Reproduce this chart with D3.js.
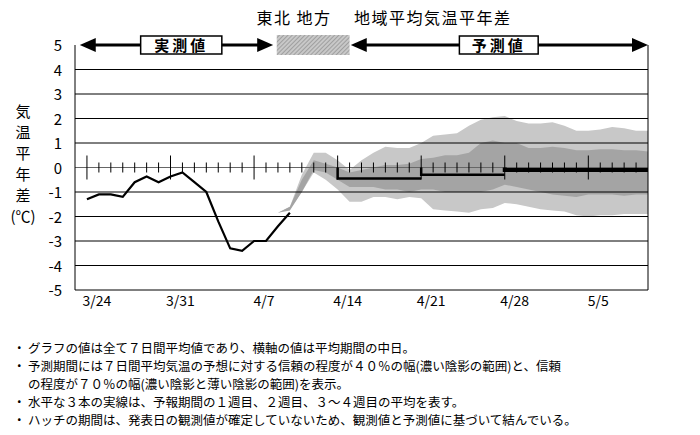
<!DOCTYPE html>
<html><head><meta charset="utf-8">
<script src="https://cdn.jsdelivr.net/npm/d3@7"></script>
<style>body{margin:0;background:#fff}text{font-family:"Noto Sans CJK JP",sans-serif}</style>
</head><body><svg id="c" width="700" height="435"></svg>
<script>
// day index 0 = 3/24
const xLabels = ['3/24', '3/31', '4/7', '4/14', '4/21', '4/28', '5/5'];
const yTicks = [5, 4, 3, 2, 1, 0, -1, -2, -3, -4, -5];
const observed = [-1.3, -1.1, -1.1, -1.2, -0.6, -0.37, -0.6, -0.37, -0.2, -0.6, -1.0, -2.2, -3.3, -3.4, -3.0, -3.0, -2.4, -1.85];
const bandDays = d3.range(16, 48);
const outerHi = [-1.85, -1.6, -0.3, 0.6, 0.6, 0.3, -0.1, 0.3, 0.6, 0.85, 0.8, 0.8, 1.0, 1.3, 1.35, 1.4, 1.7, 1.95, 2.05, 2.1, 1.9, 1.8, 1.8, 1.85, 1.7, 1.5, 1.5, 1.55, 1.65, 1.6, 1.5, 1.5];
const outerLo = [-1.85, -1.7, -1.0, -0.2, -0.5, -0.9, -1.4, -1.4, -1.2, -1.2, -1.3, -1.2, -1.25, -1.7, -1.75, -1.8, -1.85, -1.7, -1.65, -1.45, -1.5, -1.6, -1.7, -1.75, -1.8, -1.95, -2.0, -1.95, -1.95, -1.9, -1.9, -1.9];
const innerHi = [-1.85, -1.6, -0.5, 0.3, 0.15, 0.0, -0.2, -0.1, 0.0, 0.1, 0.1, 0.15, 0.35, 0.4, 0.5, 0.5, 0.6, 1.0, 1.1, 1.0, 1.0, 0.8, 0.8, 0.85, 0.8, 0.7, 0.7, 0.75, 0.75, 0.7, 0.7, 0.65];
const innerLo = [-1.85, -1.75, -1.0, -0.1, -0.2, -0.5, -0.8, -0.8, -0.8, -0.9, -0.9, -1.0, -0.9, -0.9, -1.0, -1.0, -1.0, -1.0, -0.9, -0.7, -0.8, -0.9, -1.0, -1.1, -1.15, -1.2, -1.1, -1.1, -1.1, -1.15, -1.1, -1.1];
const weeks = [
  { start: 21, end: 28, value: -0.45, width: 2.5 },
  { start: 28, end: 35, value: -0.3, width: 2.5 },
  { start: 35, end: 47, value: -0.1, width: 4 },
];
const notes = [
  'グラフの値は全て７日間平均値であり、横軸の値は平均期間の中日。',
  '予測期間には７日間平均気温の予想に対する信頼の程度が４０％の幅(濃い陰影の範囲)と、信頼',
  'の程度が７０％の幅(濃い陰影と薄い陰影の範囲)を表示。',
  '水平な３本の実線は、予報期間の１週目、２週目、３～４週目の平均を表す。',
  'ハッチの期間は、発表日の観測値が確定していないため、観測値と予測値に基づいて結んでいる。',
];
const noteBullets = [true, true, false, true, true];

const svg = d3.select('#c');
const x = d3.scaleLinear().domain([-1, 47]).range([75, 648]);
const y = d3.scaleLinear().domain([-5, 5]).range([290, 45]);

const defs = svg.append('defs');
const pat = defs.append('pattern').attr('id', 'hatch').attr('width', 3).attr('height', 3)
  .attr('patternUnits', 'userSpaceOnUse').attr('patternTransform', 'rotate(45)');
pat.append('rect').attr('width', 3).attr('height', 3).attr('fill', '#c8c8c8');
pat.append('line').attr('x1', 0).attr('y1', 0).attr('x2', 0).attr('y2', 3).attr('stroke', '#777').attr('stroke-width', 1);

// bands
const area = (hi, lo) => d3.area().x((d, i) => x(bandDays[i])).y0((d, i) => y(lo[i])).y1((d, i) => y(hi[i]));
svg.append('path').attr('d', area(outerHi, outerLo)(bandDays)).attr('fill', '#c8c8c8');
svg.append('path').attr('d', area(innerHi, innerLo)(bandDays)).attr('fill', '#a4a4a4');

// grid
svg.append('g').selectAll('line').data(yTicks.filter(v => v !== 0 && v !== 5 && v !== -5)).join('line')
  .attr('x1', x(-1)).attr('x2', x(47)).attr('y1', d => y(d)).attr('y2', d => y(d))
  .attr('stroke', '#000').attr('stroke-width', 1);
svg.append('line').attr('x1', x(-1)).attr('x2', x(47)).attr('y1', y(0)).attr('y2', y(0)).attr('stroke', '#666');
svg.append('g').selectAll('line').data(d3.range(0, 47)).join('line')
  .attr('x1', d => x(d)).attr('x2', d => x(d))
  .attr('y1', d => y(0) - (d % 7 === 0 ? 12 : 5)).attr('y2', d => y(0) + (d % 7 === 0 ? 12 : 5))
  .attr('stroke', '#000');

// frame
svg.append('path').attr('d', `M${x(-1)},${y(5)}V${y(-5)}H${x(47)}V${y(5)}`).attr('fill', 'none').attr('stroke', '#000');

// axes labels
svg.append('g').selectAll('text').data(yTicks).join('text')
  .attr('x', 62).attr('y', d => y(d) + 6).attr('text-anchor', 'end').attr('font-size', 15).text(d => d);
svg.append('g').selectAll('text').data(xLabels).join('text')
  .attr('x', (d, i) => x(i * 7) + 10).attr('y', 306).attr('text-anchor', 'middle').attr('font-size', 14).text(d => d);

// observed
svg.append('path').datum(observed).attr('fill', 'none').attr('stroke', '#000').attr('stroke-width', 2.2)
  .attr('d', d3.line().x((d, i) => x(i)).y(d => y(d)));

// weekly means
weeks.forEach(w => {
  svg.append('path').attr('fill', 'none').attr('stroke', '#000').attr('stroke-width', w.width)
    .attr('d', `M${x(w.start)},${y(0)}V${y(w.value)}H${x(w.end)}`);
});

// top arrows
const ay = y(5);
function arrow(d0, d1) {
  svg.append('line').attr('x1', x(d0) + 10).attr('x2', x(d1) - 10).attr('y1', ay).attr('y2', ay).attr('stroke', '#000').attr('stroke-width', 3);
  svg.append('path').attr('d', `M${x(d0)},${ay}l16,-7v14z`);
  svg.append('path').attr('d', `M${x(d1)},${ay}l-16,-7v14z`);
}
arrow(-0.6, 15.6);
arrow(22.1, 47);
function box(d0, d1, label) {
  svg.append('rect').attr('x', x(d0)).attr('y', ay - 9).attr('width', x(d1) - x(d0)).attr('height', 18)
    .attr('fill', '#fff').attr('stroke', '#000').attr('stroke-width', 1.5);
  svg.append('text').attr('x', (x(d0) + x(d1)) / 2).attr('y', ay + 6).attr('text-anchor', 'middle')
    .attr('font-size', 15).attr('font-weight', 'bold').attr('letter-spacing', 3).text(label);
}
box(4.5, 11.3, '実測値');
box(31.2, 37.8, '予測値');
svg.append('rect').attr('x', x(15.9)).attr('y', ay - 10).attr('width', x(22) - x(15.9)).attr('height', 20).attr('fill', 'url(#hatch)');

// title and y label
svg.append('text').attr('x', 384).attr('y', 24).attr('text-anchor', 'middle').attr('font-size', 16)
  .attr('letter-spacing', 1.5).attr('xml:space', 'preserve').text('東北 地方　 地域平均気温平年差');
svg.append('g').selectAll('text').data(['気', '温', '平', '年', '差', '(℃)']).join('text')
  .attr('x', 23).attr('y', (d, i) => 117 + i * 21).attr('text-anchor', 'middle').attr('font-size', 15).text(d => d);

// notes
const ng = svg.append('g');
notes.forEach((t, i) => {
  const ly = 353 + i * 18;
  if (noteBullets[i]) ng.append('text').attr('x', 13).attr('y', ly).attr('font-size', 12.5).text('・');
  ng.append('text').attr('x', 28).attr('y', ly).attr('font-size', 12.5).text(t);
});
</script></body></html>
